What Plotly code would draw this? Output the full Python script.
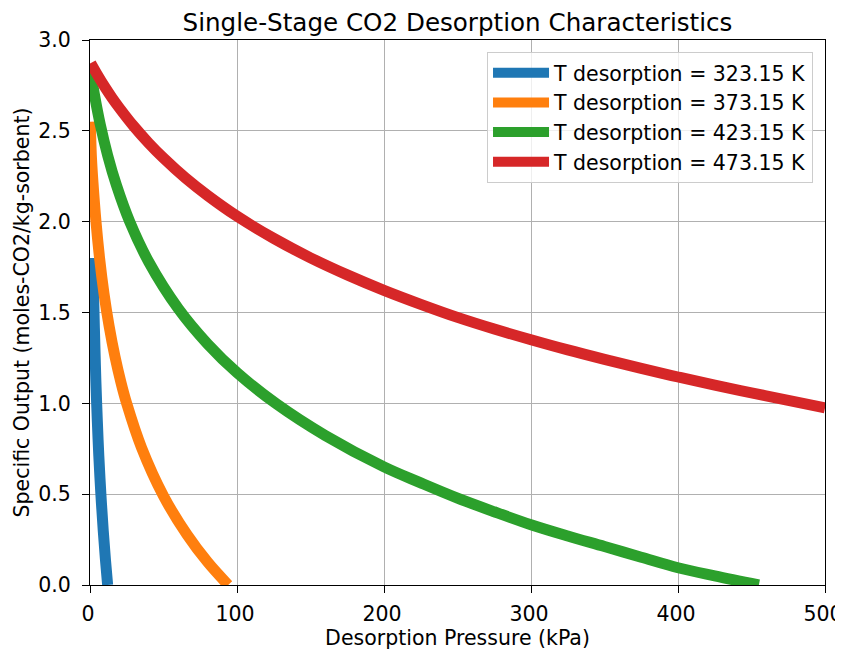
import plotly.graph_objects as go

# Desorption pressure (kPa) and specific output (moles-CO2/kg-sorbent)
pressure_323 = [2.0, 2.5, 3.0, 3.5, 4.0, 5.0, 6.0, 7.4, 9.0, 10.5, 12.0]
output_323 = [1.80, 1.58, 1.41, 1.26, 1.12, 0.90, 0.71, 0.50, 0.30, 0.14, 0.00]

pressure_373 = [0.2, 0.5, 1.0, 2.0, 4.0, 6.5, 9.5, 13.0, 17.0, 21.0, 25.0, 35.0, 50.0, 66.0, 80.0, 94.0]
output_373 = [2.55, 2.46, 2.35, 2.217, 2.006, 1.80, 1.605, 1.425, 1.257, 1.117, 0.998, 0.757, 0.49,
              0.277, 0.126, 0.00]

pressure_423 = [0.5, 3.0, 7.0, 12.0, 18.0, 27.0, 40.0, 60.0, 80.0, 100.0, 127.0, 160.0, 200.0,
                225.0, 250.0, 275.0, 300.0, 325.0, 350.0, 375.0, 400.0, 425.0, 455.0]
output_423 = [2.823, 2.700, 2.534, 2.365, 2.200, 2.000, 1.778, 1.522, 1.327, 1.169, 0.996, 0.823,
              0.650, 0.562, 0.478, 0.403, 0.332, 0.270, 0.212, 0.153, 0.095, 0.050, 0.00]

pressure_473 = [0.5, 5.0, 10.0, 15.0, 20.0, 30.0, 40.0, 50.0, 65.0, 80.0, 100.0, 125.0, 150.0,
                175.0, 200.0, 225.0, 250.0, 275.0, 300.0, 325.0, 350.0, 375.0, 400.0, 425.0,
                450.0, 475.0, 500.0]
output_473 = [2.873, 2.809, 2.743, 2.682, 2.626, 2.523, 2.432, 2.350, 2.240, 2.144, 2.030, 1.908,
              1.801, 1.707, 1.622, 1.545, 1.473, 1.409, 1.350, 1.294, 1.242, 1.192, 1.145, 1.100,
              1.058, 1.016, 0.975]

temperatures = ["323.15", "373.15", "423.15", "473.15"]
pressures = [pressure_323, pressure_373, pressure_423, pressure_473]
outputs = [output_323, output_373, output_423, output_473]
colors = ["#1f77b4", "#ff7f0e", "#2ca02c", "#d62728"]

x_ticks = [0, 100, 200, 300, 400, 500]
y_ticks = [0.0, 0.5, 1.0, 1.5, 2.0, 2.5, 3.0]
y_ticktext = ["0.0", "0.5", "1.0", "1.5", "2.0", "2.5", "3.0"]

fig = go.Figure()
for t, p, q, c in zip(temperatures, pressures, outputs, colors):
    fig.add_trace(go.Scatter(
        x=p, y=q, mode="lines", name=f"T desorption = {t} K",
        line=dict(color=c, width=11, shape="spline", smoothing=1.0),
    ))

# the page body adds an 8 px margin, so the figure is 8 px smaller and margins are shifted
fig.update_layout(
    width=835, height=642,
    margin=dict(l=82, r=18, t=32, b=65),
    plot_bgcolor="white", paper_bgcolor="white",
    font=dict(family="DejaVu Sans", size=20.5, color="black"),
    title=dict(text="Single-Stage CO2 Desorption Characteristics", x=0.5, xref="paper",
               xanchor="center", y=1 - 14 / 642, yref="container", yanchor="middle",
               font=dict(size=24.6, color="black")),
    legend=dict(x=0.9837, y=0.978, xanchor="right", yanchor="top",
                bgcolor="rgba(255,255,255,0.8)", bordercolor="#cccccc", borderwidth=1,
                font=dict(size=20.5), itemwidth=56),
    showlegend=True,
)
axis_common = dict(showgrid=True, gridcolor="#b0b0b0", gridwidth=1, showline=True,
                   linecolor="black", linewidth=1, mirror=True, ticks="outside",
                   ticklen=7, tickcolor="black", zeroline=False, automargin=False,
                   ticklabeloverflow="allow",
                   tickfont=dict(size=20.5, color="black"))
fig.update_xaxes(range=[0, 500], tickvals=x_ticks, ticklabelstandoff=3, ticklabelshift=-2,
                 title=dict(text="Desorption Pressure (kPa)", standoff=9,
                            font=dict(size=20.5, color="black")), **axis_common)
fig.update_yaxes(range=[0, 3], tickvals=y_ticks, ticktext=y_ticktext, ticklabelstandoff=7,
                 title=dict(text="Specific Output (moles-CO2/kg-sorbent)", standoff=3,
                            font=dict(size=20.5, color="black")),
                 **axis_common)

fig.write_html("out.html")
